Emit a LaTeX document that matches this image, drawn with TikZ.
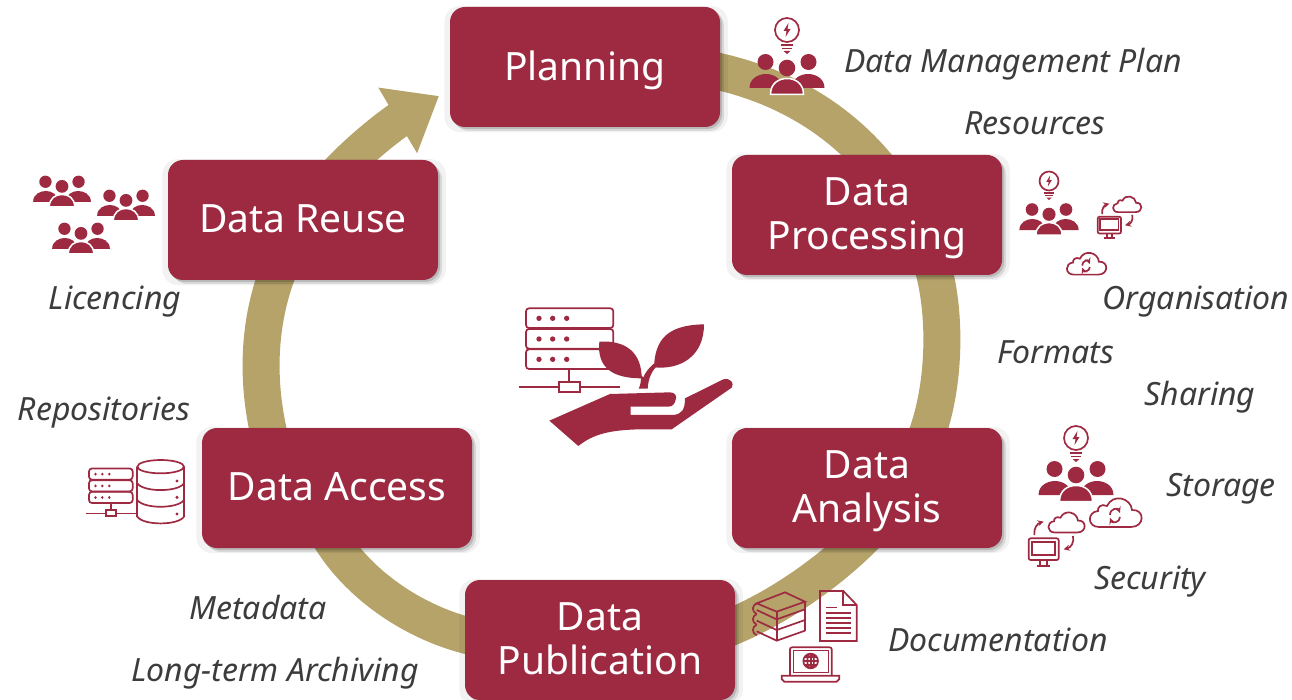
\documentclass[tikz,border=0pt]{standalone}
\usepackage{fontspec}
\setmainfont{Noto Sans}
\definecolor{berry}{HTML}{9E2A42}
\definecolor{soft}{HTML}{C4798A}
\definecolor{gold}{HTML}{B5A36A}
\definecolor{ink}{HTML}{3C3C3C}
\usetikzlibrary{
  positioning,     % placing the boxes and the words
  shadows,         % under the boxes
  arrows.meta      % head of the ring
}
\newcommand{\cloudline}{(-16,14) -- (16,14) .. controls (30,14) and (30,-4) .. (17,-3) .. controls (16,-15) and (-2,-20) .. (-8,-7) .. controls (-14,-10) and (-18,-5) .. (-17,-2) .. controls (-28,-1) and (-28,14) .. (-16,14) -- cycle}
\tikzset{
    on grid,
    x=1pt,
    y=-1pt,
    stage/.style = {
        rectangle,
        fill = berry,
        rounded corners=15pt,
        minimum width=270pt,
        minimum height=120pt,
        align=center,
        text=white,
        text depth=2pt,
        outer sep=0pt,
        font=\fontsize{39}{44}\selectfont,
        drop shadow={shadow xshift=1pt, shadow yshift=-2pt, shadow scale=1.05, opacity=.05, fill=black},
        drop shadow={shadow xshift=4pt, shadow yshift=-4pt, opacity=.1, fill=black},
        drop shadow={shadow xshift=2pt, shadow yshift=-2pt, opacity=.15, fill=black}
    },
    tag/.style = {text=ink, font=\fontsize{32}{36}\selectfont\itshape, inner sep=0pt, text height=22pt, text depth=0pt},
    ring/.style = {draw=gold, line width=37pt},
    every pic/.style = {color=berry, line width=1.7pt},
    pale/.style = {color=soft, line width=1pt},
    >=stealth,
    %% three people
    team/.pic = {
        \fill (-21.5,-12) circle (8) (21.5,-12) circle (8) (0,-6) circle (8.3);
        \fill (-37.5,14) .. controls (-37.5,4) and (-28,0) .. (-21,0) .. controls (-14,0) and (-5,4) .. (-5,14) -- cycle;
        \fill (37.5,14) .. controls (37.5,4) and (28,0) .. (21,0) .. controls (14,0) and (5,4) .. (5,14) -- cycle;
        \draw [white, fill=berry, line width=1.5pt] (-16.5,20.5) .. controls (-16.5,9) and (-8,4.5) .. (0,4.5) .. controls (8,4.5) and (16.5,9) .. (16.5,20.5) -- cycle;
    },
    bulb/.pic = {
        \draw (0,0) circle (12);
        \fill (1.5,-7) -- (-3.5,1) -- (-.5,1) -- (-1.5,7) -- (3.5,-1) -- (.5,-1) -- cycle;
        \draw (-6,15) -- (6,15) (-5,18.5) -- (5,18.5);
        \fill (-3.5,21) -- (3.5,21) -- (0,24) -- cycle;
    },
    cloudsync/.pic = {
        \draw \cloudline;
        \draw [->] (-5,2) .. controls (-5,-5) and (3,-5) .. (5,0);
        \draw [->] (5,4) .. controls (5,10) and (-3,10) .. (-5,5);
    },
    deskcloud/.pic = {
        \draw [rounded corners=2pt] (-82,-5) rectangle (8,60);
        \draw (-72,5) rectangle (-2,45);
        \draw (-47,60) -- (-47,77) (-27,60) -- (-27,77) (-57,77) -- (-17,77);
        \begin{scope}[shift={(30,-52)}, scale=2.1]
          \draw \cloudline;
        \end{scope}
        \draw [->] (-65,-15) .. controls (-68,-35) and (-55,-50) .. (-37,-55);
        \draw [->] (51,-12) .. controls (55,8) and (45,22) .. (23,28);
    },
    %% these are drawn in the units of a 3x crop
    server/.pic = {
        \foreach \top in {55,117,178} {
            \draw [rounded corners=3pt] (78,\top) rectangle (340,\top+59);
            \foreach \left in {117,158,200}
                \fill (\left,\top+30) circle (8);
        }
        \draw (208,237) -- (208,275) (58,292) -- (178,292) (240,292) -- (360,292);
        \draw (178,275) rectangle (240,307);
    },
    sprout/.pic = {
        \fill (148,392) -- (330,312) -- (510,307) .. controls (525,307) and (530,318) .. (528,325) .. controls (525,342) and (518,350) .. (505,350) -- (392,350) -- (392,375) -- (520,375) .. controls (545,372) and (555,360) .. (555,325) -- (670,268) .. controls (690,262) and (705,280) .. (695,293) -- (515,418) -- (420,418) .. controls (330,420) and (280,432) .. (235,468) -- cycle;
        \fill (612,103) .. controls (500,105) and (465,150) .. (462,232) .. controls (540,240) and (612,200) .. (612,103) -- cycle;
        \fill (298,155) .. controls (380,150) and (425,190) .. (425,265) .. controls (340,265) and (290,235) .. (298,155) -- cycle;
        \fill (416,296) -- (443,296) .. controls (445,265) and (455,240) .. (478,222) -- (460,222) .. controls (445,235) and (435,250) .. (430,262) -- (422,255) .. controls (424,270) and (422,285) .. (416,296) -- cycle;
    },
    archive/.pic = {
        \draw (172,35) -- (172,185) (312,35) -- (312,185);
        \draw (242,35) ellipse (70 and 20);
        \draw (172,185) .. controls (190,212) and (294,212) .. (312,185);
        \draw (172,85) .. controls (190,112) and (294,112) .. (312,85);
        \draw (172,135) .. controls (190,162) and (294,162) .. (312,135);
        \fill (291,78) circle (5) (291,127) circle (5) (291,177) circle (5);
    },
    paperwork/.pic = {
        %% books
        \draw (50,55) -- (135,22) -- (195,50) -- (110,80) -- cycle;
        \foreach \drop in {0,32,64} {
            \draw (50,75+\drop) -- (110,103+\drop) -- (195,73+\drop);
            \draw (50,55+\drop) .. controls (35,62+\drop) and (35,80+\drop) .. (50,87+\drop);
        }
        \draw (110,80) -- (110,167) (195,50) -- (195,137);
        %% page
        \draw (240,18) -- (310,18) -- (350,60) -- (350,168) -- (240,168) -- cycle;
        \draw (310,18) -- (310,60) -- (350,60);
        \draw [line width=1.6pt] (258,68) -- (292,68);
        \foreach \row in {85,100,115,130,145}
            \draw (258,\row) -- (332,\row);
        %% laptop
        \draw [rounded corners=2pt] (150,270) -- (150,187) -- (275,187) -- (275,270);
        \draw [line width=1.5pt] (160,197) rectangle (265,262);
        \draw (125,272) -- (298,272) -- (298,282) -- (290,290) -- (133,290) -- (125,282) -- cycle;
        \draw (212,228) circle (22) (212,228) ellipse (10 and 22);
        \draw (190,228) -- (234,228) (212,206) -- (212,250) (194,216) -- (230,216) (194,240) -- (230,240);
    }
}
\pgfdeclarelayer{background}
\pgfsetlayers{background,main}

\begin{document}
\begin{tikzpicture}
  \useasboundingbox (0,0) rectangle (1292,700);

  %% stages
  \node [stage] (plan) at (585,67) {Planning};
  \node [stage, below right=148pt and 282pt of plan] (proc) {Data\\Processing};
  \node [stage, below=273pt of proc] (anal) {Data\\Analysis};
  \node [stage, below left=152pt and 267pt of anal] (publ) {Data\\Publication};
  \node [stage, above left=152pt and 263pt of publ] (access) {Data Access};
  \node [stage, above left=268pt and 34pt of access] (reuse) {Data Reuse};

  %% ring
  \coordinate (tip) at (439,96);
  \begin{pgfonlayer}{background}
    \draw [ring] (plan.center) .. controls (700,50) and (825,85) .. ([xshift=28pt,yshift=-35pt]proc.north);
    \draw [ring] ([xshift=60pt,yshift=25pt]proc.south) .. controls (948,300) and (948,395) .. ([xshift=52pt,yshift=-25pt]anal.north);
    \draw [ring] ([xshift=10pt,yshift=25pt]anal.south) .. controls (835,570) and (770,615) .. ([xshift=-25pt,yshift=5pt]publ.east);
    \draw [ring] ([xshift=25pt]publ.west) .. controls (430,632) and (355,590) .. ([xshift=-15pt,yshift=25pt]access.south);
    \draw [ring] ([xshift=-63pt,yshift=-25pt]access.north) .. controls (258,400) and (252,325) .. ([xshift=-18pt,yshift=25pt]reuse.south);
    \draw [ring, line width=36pt, -{Triangle[length=48pt,width=73pt]}] ([xshift=20pt,yshift=-30pt]reuse.north) .. controls (350,155) and (395,122) .. (tip);
  \end{pgfonlayer}

  %% words
  \node [tag] (dmp) at (1013,62) {Data Management Plan};
  \node [tag, below=62pt of dmp, xshift=22pt] (res) {Resources};
  \node [tag, below=174pt of res, xshift=161pt] (org) {Organisation};
  \node [tag, below=54pt of org, xshift=-140pt] (fmt) {Formats};
  \node [tag, below=42pt of fmt, xshift=144pt] (sha) {Sharing};
  \node [tag, below=91pt of sha, xshift=21pt] (sto) {Storage};
  \node [tag, below=93pt of sto, xshift=-71pt] (sec) {Security};
  \node [tag, below=62pt of sec, xshift=-152pt] (doc) {Documentation};
  \node [tag, left=723pt of doc, yshift=-30pt] (lta) {Long-term Archiving};
  \node [tag, above=62pt of lta, xshift=-17pt] (meta) {Metadata};
  \node [tag, above=199pt of meta, xshift=-154pt] (repo) {Repositories};
  \node [tag, above=110pt of repo, xshift=11pt] (lic) {Licencing};

  %% icons
  \pic at (787,74) {team};
  \pic at (787,30) {bulb};

  \pic [scale=.79] at (1049,219) {team};
  \pic [scale=.79] at (1049,181) {bulb};
  \pic [scale=.76, line width=1.5pt] at (1086,264) {cloudsync};
  \pic [pale, scale=.26] at (1119,218) {deskcloud};

  \pic at (1076,481) {team};
  \pic at (1076,438) {bulb};
  \pic at (1115,513) {cloudsync};
  \pic [pale, scale=1/3] at (1056,540) {deskcloud};

  \pic [pale, scale=1/3] at (740,585) {paperwork};

  \pic [pale, xscale=1/6, yscale=.19] at (76,458) {server};
  \pic [line width=1.2pt, scale=1/3] at (80,455) {archive};

  \pic [scale=.77] at (62,191) {team};
  \pic [scale=.77] at (126,205) {team};
  \pic [scale=.77] at (81,238) {team};

  \pic [line width=2pt, scale=1/3] at (500,290) {server};
  \pic [scale=1/3] at (500,290) {sprout};

\end{tikzpicture}
\end{document}
